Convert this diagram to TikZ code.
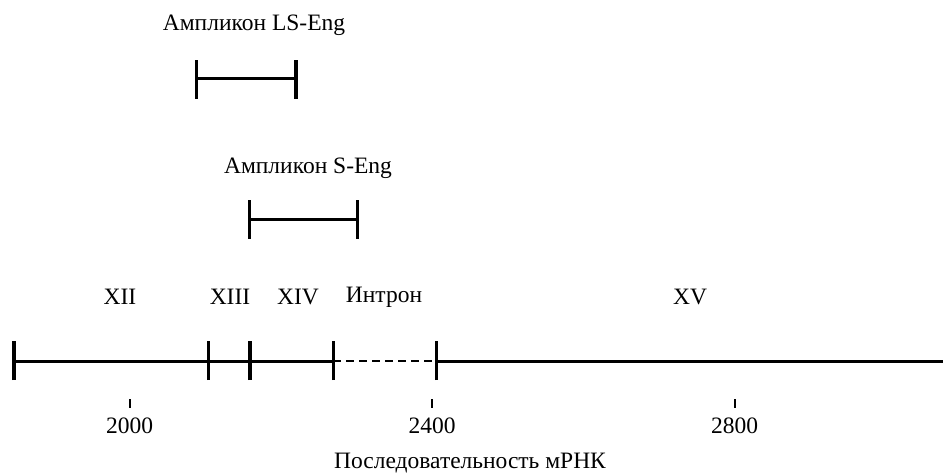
\documentclass[tikz,border=0pt]{standalone}
\usepackage{fontspec}
\setmainfont{Liberation Serif}
\begin{document}
\begin{tikzpicture}[x=1pt,y=-1pt,
  lbl/.style={font=\fontsize{23.5}{27}\selectfont, inner sep=0pt, anchor=center},
  seg/.style={line width=3pt},
  tk/.style={line width=3.3pt},
  smalltk/.style={line width=2pt},
  gap/.style={line width=2.4pt, dash pattern=on 8pt off 5pt}]
\useasboundingbox (0,0) rectangle (943,473);
% amplicon LS
\node[lbl] (lsl) at (254,25) {Ампликон LS-Eng};
\coordinate (ls1) at (196.7,79);
\coordinate (ls2) at (296,79);
\draw[seg] (ls1) -- (ls2);
\draw[tk] ([yshift=-20pt]ls1) -- ([yshift=19pt]ls1);
\draw[tk] ([yshift=-20pt]ls2) -- ([yshift=19pt]ls2);
% amplicon S
\node[lbl] (sl) at (308,168) {Ампликон S-Eng};
\coordinate (s1) at (249.3,220);
\coordinate (s2) at (357.7,220);
\draw[seg] (s1) -- (s2);
\draw[tk] ([yshift=-19pt]s1) -- ([yshift=20pt]s1);
\draw[tk] ([yshift=-19pt]s2) -- ([yshift=20pt]s2);
% exon labels
\node[lbl] (xii) at (120,297) {XII};
\node[lbl] (xiii) at (230,297) {XIII};
\node[lbl] (xiv) at (298,297) {XIV};
\node[lbl] (intr) at (384,297) {Интрон};
\node[lbl] (xv) at (690,297) {XV};
% main line
\coordinate (m0) at (14,361);
\coordinate (m1) at (208.7,361);
\coordinate (m2) at (250,361);
\coordinate (m3) at (333.3,361);
\coordinate (m4) at (436.7,361);
\coordinate (m5) at (943,361);
\draw[seg] (m0) -- (m3);
\draw[gap] (m3) -- (m4);
\draw[seg] (m4) -- (m5);
\foreach \c in {m0,m1,m2,m3,m4}
  \draw[tk] ([yshift=-19pt]\c) -- ([yshift=20pt]\c);
% axis ticks
\foreach \x/\v in {129.5/2000,432/2400,734.5/2800}{
  \coordinate (t\v) at (\x,399);
  \draw[smalltk] (t\v) -- ++(0,9);
  \node[lbl] (n\v) at (\x,426) {\v};
}
\node[lbl] (axl) at (470,463) {Последовательность мРНК};
\end{tikzpicture}
\end{document}
